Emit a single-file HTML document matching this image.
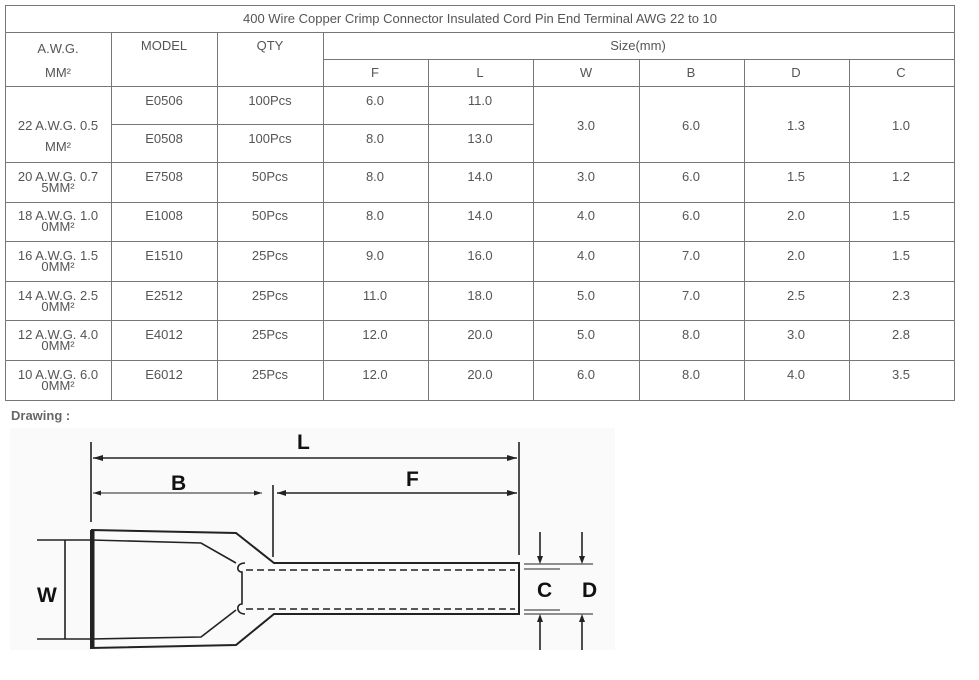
<!DOCTYPE html>
<html><head><meta charset="utf-8"><style>
html,body{margin:0;padding:0;background:#fff;width:979px;height:680px;overflow:hidden}
svg{display:block}
text{font-family:"Liberation Sans",Arial,sans-serif;font-size:13px;fill:#555}
.t text{text-anchor:middle}
</style></head><body>
<svg width="979" height="680" viewBox="0 0 979 680" xmlns="http://www.w3.org/2000/svg">
<g stroke="#777" stroke-width="1" fill="none">
<rect x="5.5" y="5.5" width="949" height="395"/>
<line x1="5" y1="32.5" x2="954" y2="32.5"/>
<line x1="323" y1="59.5" x2="954" y2="59.5"/>
<line x1="5" y1="86.5" x2="954" y2="86.5"/>
<line x1="111" y1="124.5" x2="533" y2="124.5"/>
<line x1="5" y1="162.5" x2="954" y2="162.5"/>
<line x1="5" y1="202.5" x2="954" y2="202.5"/>
<line x1="5" y1="241.5" x2="954" y2="241.5"/>
<line x1="5" y1="281.5" x2="954" y2="281.5"/>
<line x1="5" y1="320.5" x2="954" y2="320.5"/>
<line x1="5" y1="360.5" x2="954" y2="360.5"/>
<line x1="111.5" y1="32" x2="111.5" y2="400"/>
<line x1="217.5" y1="32" x2="217.5" y2="400"/>
<line x1="323.5" y1="32" x2="323.5" y2="400"/>
<line x1="428.5" y1="59" x2="428.5" y2="400"/>
<line x1="533.5" y1="59" x2="533.5" y2="400"/>
<line x1="639.5" y1="59" x2="639.5" y2="400"/>
<line x1="744.5" y1="59" x2="744.5" y2="400"/>
<line x1="849.5" y1="59" x2="849.5" y2="400"/>
</g>
<g class="t">
<text x="480" y="23">400 Wire Copper Crimp Connector Insulated Cord Pin End Terminal AWG 22 to 10</text>
<text x="58" y="53">A.W.G.</text><text x="58" y="77">MM²</text>
<text x="164" y="50">MODEL</text><text x="270" y="50">QTY</text><text x="638" y="50">Size(mm)</text>
<text x="375" y="77">F</text><text x="480" y="77">L</text><text x="586" y="77">W</text><text x="691" y="77">B</text><text x="796" y="77">D</text><text x="901" y="77">C</text>
<text x="58" y="130">22 A.W.G. 0.5</text><text x="58" y="151">MM²</text>
<text x="164" y="105">E0506</text><text x="270" y="105">100Pcs</text><text x="375" y="105">6.0</text><text x="480" y="105">11.0</text>
<text x="164" y="143">E0508</text><text x="270" y="143">100Pcs</text><text x="375" y="143">8.0</text><text x="480" y="143">13.0</text>
<text x="586" y="130">3.0</text><text x="691" y="130">6.0</text><text x="796" y="130">1.3</text><text x="901" y="130">1.0</text>
<g>
<text x="58" y="181">20 A.W.G. 0.7</text><text x="58" y="192">5MM²</text>
<text x="164" y="181">E7508</text><text x="270" y="181">50Pcs</text><text x="375" y="181">8.0</text><text x="480" y="181">14.0</text><text x="586" y="181">3.0</text><text x="691" y="181">6.0</text><text x="796" y="181">1.5</text><text x="901" y="181">1.2</text>
</g>
<g>
<text x="58" y="220">18 A.W.G. 1.0</text><text x="58" y="231">0MM²</text>
<text x="164" y="220">E1008</text><text x="270" y="220">50Pcs</text><text x="375" y="220">8.0</text><text x="480" y="220">14.0</text><text x="586" y="220">4.0</text><text x="691" y="220">6.0</text><text x="796" y="220">2.0</text><text x="901" y="220">1.5</text>
</g>
<g>
<text x="58" y="260">16 A.W.G. 1.5</text><text x="58" y="271">0MM²</text>
<text x="164" y="260">E1510</text><text x="270" y="260">25Pcs</text><text x="375" y="260">9.0</text><text x="480" y="260">16.0</text><text x="586" y="260">4.0</text><text x="691" y="260">7.0</text><text x="796" y="260">2.0</text><text x="901" y="260">1.5</text>
</g>
<g>
<text x="58" y="300">14 A.W.G. 2.5</text><text x="58" y="311">0MM²</text>
<text x="164" y="300">E2512</text><text x="270" y="300">25Pcs</text><text x="375" y="300">11.0</text><text x="480" y="300">18.0</text><text x="586" y="300">5.0</text><text x="691" y="300">7.0</text><text x="796" y="300">2.5</text><text x="901" y="300">2.3</text>
</g>
<g>
<text x="58" y="339">12 A.W.G. 4.0</text><text x="58" y="350">0MM²</text>
<text x="164" y="339">E4012</text><text x="270" y="339">25Pcs</text><text x="375" y="339">12.0</text><text x="480" y="339">20.0</text><text x="586" y="339">5.0</text><text x="691" y="339">8.0</text><text x="796" y="339">3.0</text><text x="901" y="339">2.8</text>
</g>
<g>
<text x="58" y="379">10 A.W.G. 6.0</text><text x="58" y="390">0MM²</text>
<text x="164" y="379">E6012</text><text x="270" y="379">25Pcs</text><text x="375" y="379">12.0</text><text x="480" y="379">20.0</text><text x="586" y="379">6.0</text><text x="691" y="379">8.0</text><text x="796" y="379">4.0</text><text x="901" y="379">3.5</text>
</g>
</g>
<text x="11" y="420" style="font-weight:bold;fill:#666">Drawing :</text>
<rect x="10" y="428" width="605" height="222" fill="#fafafa"/>
<g stroke="#222" stroke-width="1.6" fill="none">
<line x1="91" y1="442" x2="91" y2="522"/>
<line x1="519" y1="442" x2="519" y2="555"/>
<line x1="93" y1="458" x2="517" y2="458"/>
<line x1="93" y1="493" x2="262" y2="493" stroke-width="1"/>
<line x1="273" y1="485" x2="273" y2="557"/>
<line x1="277" y1="493" x2="517" y2="493"/>
<polyline points="91,530 236,533 274,563 519,563 519,614 274,614 236,645 91,648 91,530" stroke-width="2"/>
<polyline points="37,540 91,540 201,543 236,563"/>
<polyline points="37,639 91,639 201,637 236,610"/>
<line x1="93" y1="530" x2="93" y2="648" stroke-width="3"/>
<line x1="65" y1="540" x2="65" y2="639"/>
<path d="M245,563 C236,563 236,572 242,572 L242,604 C236,604 236,614 245,614"/>
<line x1="246" y1="570" x2="515" y2="570" stroke-dasharray="7,4"/>
<line x1="246" y1="609" x2="515" y2="609" stroke-dasharray="7,4"/>
<line x1="524" y1="564" x2="593" y2="564" stroke-width="1"/>
<line x1="524" y1="614" x2="593" y2="614" stroke-width="1"/>
<line x1="524" y1="569" x2="560" y2="569" stroke-width="1"/>
<line x1="524" y1="610" x2="560" y2="610" stroke-width="1"/>
<line x1="540" y1="532" x2="540" y2="560"/>
<line x1="540" y1="618" x2="540" y2="650"/>
<line x1="582" y1="532" x2="582" y2="558"/>
<line x1="582" y1="620" x2="582" y2="650"/>
</g>
<g fill="#222">
<polygon points="93,458 103,455 103,461"/><polygon points="517,458 507,455 507,461"/>
<polygon points="93,493 101,490.5 101,495.5"/><polygon points="262,493 254,490.5 254,495.5"/>
<polygon points="277,493 286,490 286,496"/><polygon points="517,493 507,490 507,496"/>
<polygon points="540,564 537,556 543,556"/><polygon points="540,614 537,622 543,622"/>
<polygon points="582,564 579,556 585,556"/><polygon points="582,614 579,622 585,622"/>
</g>
<g style="font-weight:bold;font-size:21px">
<text x="297" y="449" style="font-weight:bold;font-size:21px;fill:#111">L</text>
<text x="171" y="490" style="font-weight:bold;font-size:21px;fill:#111">B</text>
<text x="406" y="486" style="font-weight:bold;font-size:21px;fill:#111">F</text>
<text x="37" y="602" style="font-weight:bold;font-size:21px;fill:#111">W</text>
<text x="537" y="597" style="font-weight:bold;font-size:21px;fill:#111">C</text>
<text x="582" y="597" style="font-weight:bold;font-size:21px;fill:#111">D</text>
</g>
</svg>
</body></html>
